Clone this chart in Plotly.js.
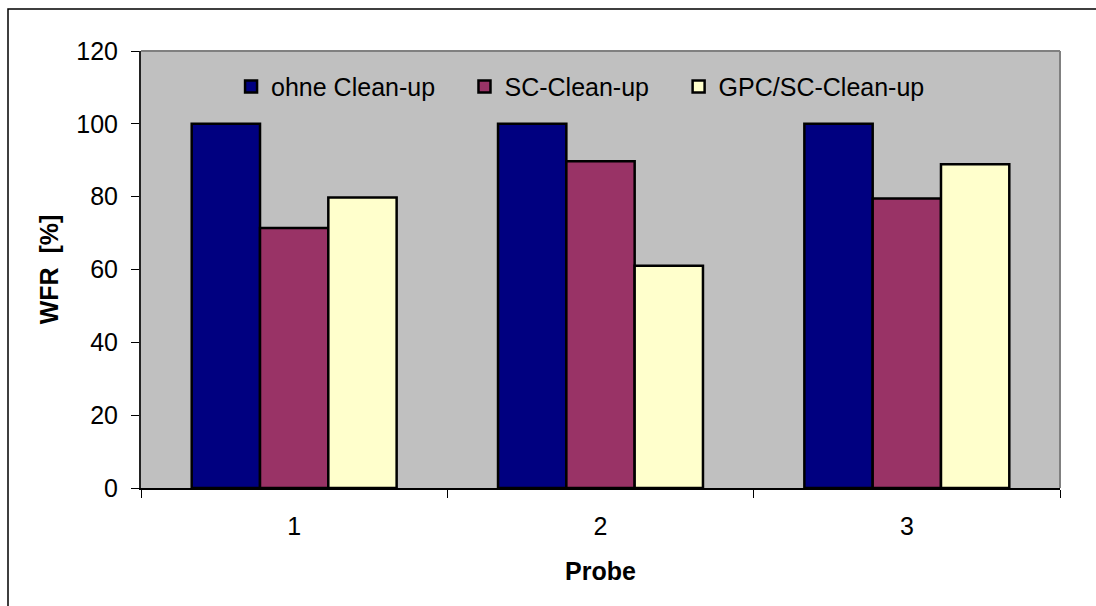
<!DOCTYPE html>
<html>
<head>
<meta charset="utf-8">
<script src="https://cdn.plot.ly/plotly-3.0.1.min.js"></script>
<style>html,body{margin:0;padding:0;background:#fff;}#chart{width:1096px;height:606px;}</style>
</head>
<body>
<div id="chart"></div>
<script>
const categories = ["1", "2", "3"];
const seriesNames = ["ohne Clean-up", "SC-Clean-up", "GPC/SC-Clean-up"];
const ohneCleanup = [100, 100, 100];
const scCleanup = [71.4, 89.7, 79.5];
const gpcScCleanup = [79.8, 61.0, 88.9];
const yTicks = [0, 20, 40, 60, 80, 100, 120];

const colors = ["#000080", "#993366", "#FFFFCC"];
const values = [ohneCleanup, scCleanup, gpcScCleanup];
const legendIds = ["legend", "legend2", "legend3"];

const traces = values.map((v, i) => ({
  type: "bar",
  name: seriesNames[i],
  x: categories,
  y: v,
  legend: legendIds[i],
  marker: {color: colors[i], line: {color: "#000000", width: 2.5}},
  hoverinfo: "skip"
}));

const FONT = "Liberation Sans, Arial, sans-serif";
const W = 1096, H = 606;
const mL = 141, mR = 36, mT = 51, mB = 118;

function legendAt(x) {
  return {
    orientation: "h", x: x, xanchor: "left", y: 0.918, yanchor: "middle",
    bgcolor: "rgba(0,0,0,0)", borderwidth: 0,
    font: {family: FONT, size: 25, color: "#000"},
    itemwidth: 30
  };
}

const layout = {
  width: W, height: H,
  margin: {l: mL, r: mR, t: mT, b: mB, pad: 0},
  paper_bgcolor: "#ffffff",
  plot_bgcolor: "#C0C0C0",
  font: {family: FONT, size: 25, color: "#000"},
  barmode: "group",
  bargap: 0.331,
  bargroupgap: 0,
  showlegend: true,
  legend: legendAt(0.098),
  legend2: legendAt(0.352),
  legend3: legendAt(0.585),
  xaxis: {
    type: "category",
    tickson: "boundaries",
    ticks: "outside", ticklen: 8, tickwidth: 1, tickcolor: "#000",
    showline: true, linecolor: "#000", linewidth: 2,
    showgrid: false, zeroline: false,
    ticklabelstandoff: 15,
    tickfont: {family: FONT, size: 25, color: "#000"},
    title: {text: "<b>Probe</b>", font: {family: FONT, size: 25, color: "#000"}, standoff: 23}
  },
  yaxis: {
    range: [0, 120],
    tickvals: yTicks,
    ticktext: yTicks.map(String),
    ticks: "outside", ticklen: 8, tickwidth: 1, tickcolor: "#000",
    showline: true, linecolor: "#222", linewidth: 2,
    showgrid: false, zeroline: false,
    ticklabelstandoff: 8,
    tickfont: {family: FONT, size: 25, color: "#000"},
    title: {text: "<b>WFR  [%]</b>", font: {family: FONT, size: 25, color: "#000"}, standoff: 11}
  },
  shapes: [
    {type: "line", xref: "paper", yref: "paper", x0: 0, x1: 1, y0: 1, y1: 1,
     line: {color: "#808080", width: 2}},
    {type: "line", xref: "paper", yref: "paper", x0: 1, x1: 1, y0: 0, y1: 1,
     line: {color: "#808080", width: 2}},
    {type: "rect", xref: "paper", yref: "paper",
     x0: (8 - mL) / (W - mL - mR), x1: 1.2,
     y0: -0.5, y1: (H - mB - 9) / (H - mT - mB),
     line: {color: "#000", width: 1.5}, fillcolor: "rgba(0,0,0,0)", layer: "below"}
  ]
};

Plotly.newPlot("chart", traces, layout, {displayModeBar: false, staticPlot: true});
</script>
</body>
</html>
